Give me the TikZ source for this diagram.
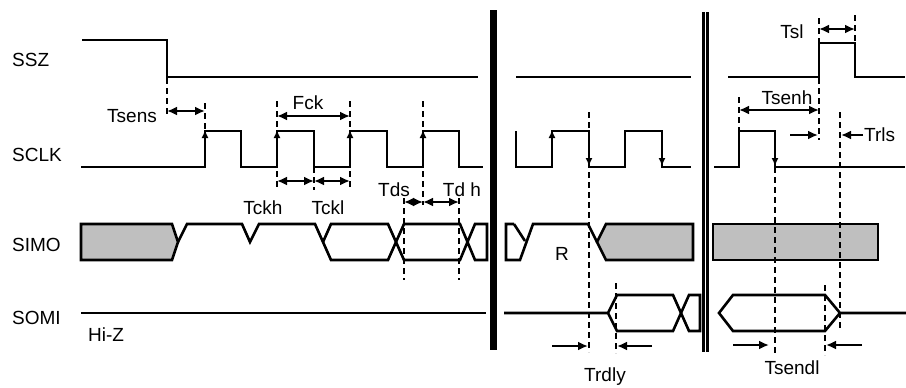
\documentclass[tikz,border=0pt]{standalone}
\usepackage{fontspec}
\setmainfont{Liberation Sans}
\usetikzlibrary{arrows.meta}
\begin{document}
\begin{tikzpicture}[x=1pt,y=-1pt,
  sig/.style={line width=2.6pt, line join=miter},
  dsh/.style={line width=2.3pt, dash pattern=on 6pt off 4pt},
  edgeup/.style={line width=2.6pt, -{Latex[length=8pt,width=7pt]}},
  dimboth/.style={line width=2.8pt, {Latex[length=10pt,width=9pt]}-{Latex[length=10pt,width=9pt]}},
  dimone/.style={line width=2.8pt, -{Latex[length=10pt,width=9pt]}},
  lbl/.style={font=\fontsize{19}{22}\selectfont, inner sep=0pt},
  bus/.style={line width=2.6pt, line join=miter, fill=gray!50}]
\useasboundingbox (0,0) rectangle (906,388);
\fill[white] (0,0) rectangle (906,388);

% signal names
\node[lbl,anchor=west] (nssz) at (12,60) {SSZ};
\node[lbl,anchor=west] (nsclk) at (12,155) {SCLK};
\node[lbl,anchor=west] (nsimo) at (12,245) {SIMO};
\node[lbl,anchor=west] (nsomi) at (12,318) {SOMI};
\node[lbl,anchor=west] (nhiz) at (88,335) {Hi-Z};

% break bars
\draw[line width=7pt] (493.5,10) -- (493.5,350);
\draw[line width=2.6pt] (703.2,12) -- (703.2,352);
\draw[line width=2.6pt] (707.4,12) -- (707.4,352);

% SSZ
\draw[sig] (82,40)--(167,40)--(167,77)--(478,77);
\draw[sig] (516,77)--(691,77);
\draw[sig] (728,77)--(819,77)--(819,43)--(855,43)--(855,77)--(905,77);

% SCLK
\draw[sig] (81,167)--(205,167)--(205,131)--(241,131)--(241,167)--(277,167)--(277,131)--(314,131)--(314,167)--(350,167)--(350,131)--(387,131)--(387,167)--(423,167)--(423,131)--(459,131)--(459,167)--(483,167);
\draw[sig] (516,131)--(516,167)--(552,167)--(552,131)--(589,131)--(589,167)--(625,167)--(625,131)--(662,131)--(662,167)--(691,167);
\draw[sig] (714,167)--(739,167)--(739,131)--(775,131)--(775,167)--(905,167);
\foreach \x in {205,277,350,423,552} \draw[edgeup] (\x,155)--(\x,130);
\foreach \x in {589,662,775} \draw[edgeup] (\x,145)--(\x,166);

% SIMO
\draw[bus] (81,224)--(172,224)--(178,242)--(172,260)--(81,260)--cycle;
\draw[sig] (178,242)--(187,224)--(242,224)--(250,242)--(259,224)--(315,224)--(331,260)--(388,260)--(404,224)--(460,224)--(475,260)--(487,260)--(487,224)--(475,224)--(460,260)--(404,260)--(388,224)--(331,224)--(323,242);
\draw[sig] (514,224)--(506,224)--(506,260)--(520,260)--(533,224)--(588,224)--(597,242);
\draw[sig] (514,224)--(525,241);
\draw[bus] (597,242)--(606,224)--(693,224)--(693,260)--(606,260)--cycle;
\draw[bus] (713,224) rectangle (878,260);

% SOMI
\draw[sig] (81,313)--(486,313);
\draw[sig] (504,313)--(608,313)--(617,295)--(673,295)--(689,331)--(700,331)--(700,295)--(689,295)--(673,331)--(617,331)--(608,313);
\draw[sig] (906,313)--(840,313)--(825,295)--(733,295)--(719,313)--(733,331)--(825,331)--(840,313);

% dashed guides
\draw[dsh] (167,78)--(167,117);
\draw[dsh] (205,103)--(205,131);
\draw[dsh] (277,101)--(277,190);
\draw[dsh] (350,101)--(350,190);
\draw[dsh] (314,167)--(314,190);
\draw[dsh] (423,101)--(423,205);
\draw[dsh] (404,198)--(404,280);
\draw[dsh] (459,198)--(459,280);
\draw[dsh] (589,112)--(589,352);
\draw[dsh] (616,283)--(616,353);
\draw[dsh] (819,18)--(819,140);
\draw[dsh] (855,15)--(855,43);
\draw[dsh] (739,97)--(739,131);
\draw[dsh] (840,112)--(840,328);
\draw[dsh] (775,167)--(775,355);
\draw[dsh] (825,285)--(825,355);

% dimension arrows
\draw[dimboth] (167,111)--(205,111);
\draw[dimboth] (277,116)--(350,116);
\draw[dimboth] (277,181)--(314,181);
\draw[dimboth] (314,181)--(350,181);
\draw[dimboth] (404,202)--(423,202);
\draw[dimboth] (423,202)--(459,202);
\draw[dimone] (552,346)--(588,346);
\draw[dimone] (652,346)--(617,346);
\draw[dimboth] (819,29)--(855,29);
\draw[dimboth] (739,110)--(819,110);
\draw[dimone] (790,135)--(818,135);
\draw[dimone] (863,135)--(841,135);
\draw[dimone] (733,345)--(769,345);
\draw[dimone] (862,345)--(826,345);

% timing labels
\node[lbl] (tsens) at (132,116) {Tsens};
\node[lbl] (fck) at (308,103) {Fck};
\node[lbl] (tckh) at (263,208) {Tckh};
\node[lbl] (tckl) at (328,208) {Tckl};
\node[lbl] (tds) at (394,190) {Tds};
\node[lbl] (tdh) at (462,190) {Td h};
\node[lbl] (r) at (562,254) {R};
\node[lbl] (trdly) at (605,377) {Trdly};
\node[lbl] (tsl) at (792,32) {Tsl};
\node[lbl] (tsenh) at (787,98) {Tsenh};
\node[lbl,anchor=west] (trls) at (864,135) {Trls};
\node[lbl] (tsendl) at (792,368) {Tsendl};
\end{tikzpicture}
\end{document}
